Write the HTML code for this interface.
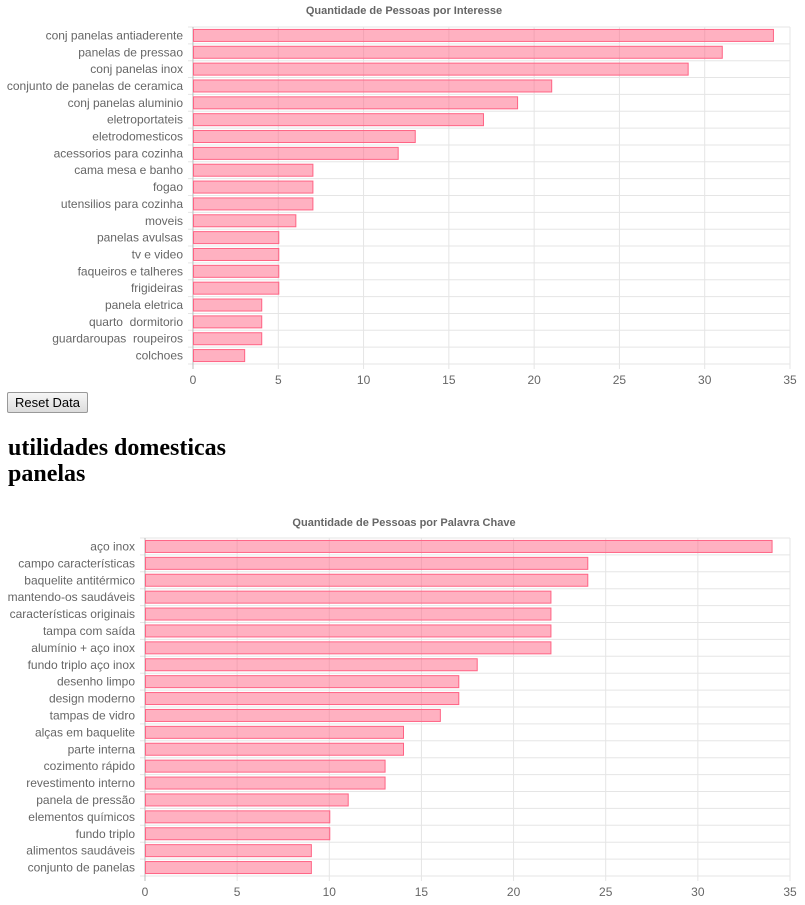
<!DOCTYPE html>
<html><head><meta charset="utf-8"><style>
body{margin:0;width:805px;height:905px;background:#fff;position:relative;overflow:hidden;font-family:"Liberation Sans",sans-serif}
svg{position:absolute;left:0}
svg text{white-space:pre}
button{position:absolute;left:7px;top:392px;width:81px;height:21px;font:13px "Liberation Sans",sans-serif;border:1px solid #999;border-radius:2px;background:linear-gradient(#f6f6f6,#dcdcdc);padding:0}
h2{position:absolute;left:8px;top:435px;margin:0;font:bold 24px/26px "Liberation Serif",serif;color:#000}
</style></head><body>
<svg id="c1" width="805" height="390" style="top:0"></svg>
<button>Reset Data</button>
<h2>utilidades domesticas<br>panelas</h2>
<svg id="c2" width="805" height="395" style="top:510px"></svg>
<script>
const cats1=["conj panelas antiaderente","panelas de pressao","conj panelas inox","conjunto de panelas de ceramica","conj panelas aluminio","eletroportateis","eletrodomesticos","acessorios para cozinha","cama mesa e banho","fogao","utensilios para cozinha","moveis","panelas avulsas","tv e video","faqueiros e talheres","frigideiras","panela eletrica","quarto  dormitorio","guardaroupas  roupeiros","colchoes"];
const vals1=[34,31,29,21,19,17,13,12,7,7,7,6,5,5,5,5,4,4,4,3];
const cats2=["aço inox","campo características","baquelite antitérmico","mantendo-os saudáveis","características originais","tampa com saída","alumínio + aço inox","fundo triplo aço inox","desenho limpo","design moderno","tampas de vidro","alças em baquelite","parte interna","cozimento rápido","revestimento interno","panela de pressão","elementos químicos","fundo triplo","alimentos saudáveis","conjunto de panelas"];
const vals2=[34,24,24,22,22,22,22,18,17,17,16,14,14,13,13,11,10,10,9,9];
const ticks=[0,5,10,15,20,25,30,35];
const NS="http://www.w3.org/2000/svg";
function mk(svg,tag,attrs,txt){const e=document.createElementNS(NS,tag);for(const k in attrs)e.setAttribute(k,attrs[k]);if(txt!==undefined)e.textContent=txt;svg.appendChild(e);return e;}
function draw(id,title,cats,vals,x0,x1,top,bottom,titleY){
  const svg=document.getElementById(id);
  const xs=v=>x0+(x1-x0)*v/35;
  const step=(bottom-top)/cats.length;
  let t=mk(svg,"text",{x:404,y:titleY,"text-anchor":"middle","font-size":11,"font-weight":"bold",fill:"#666"},title);
  
  
  for(let i=0;i<=cats.length;i++){const y=top+i*step;mk(svg,"line",{x1:x0-5,x2:x1,y1:y,y2:y,stroke:"#e5e5e5"});}
  ticks.forEach(v=>{const x=xs(v);mk(svg,"line",{x1:x,x2:x,y1:top,y2:bottom+5,stroke:v==0?"#bbb":"#e5e5e5"});
    const l=mk(svg,"text",{x:x,y:bottom+20,"text-anchor":"middle","font-size":12,fill:"#666"},v);
    
    });
  cats.forEach((c,i)=>{const cy=top+(i+0.5)*step;
    const l=mk(svg,"text",{x:x0-10,y:cy+4,"text-anchor":"end","font-size":12,fill:"#666"},c);
    
    
    const b=mk(svg,"rect",{x:xs(0)+0.5,y:cy-6,width:xs(vals[i])-xs(0),height:12,fill:"rgba(255,99,132,0.5)",stroke:"#ff6384","stroke-width":1});
    
    });
}
draw("c1","Quantidade de Pessoas por Interesse",cats1,vals1,193,790,27,364,14);
draw("c2","Quantidade de Pessoas por Palavra Chave",cats2,vals2,145,790,28,366,16);
</script>
</body></html>
